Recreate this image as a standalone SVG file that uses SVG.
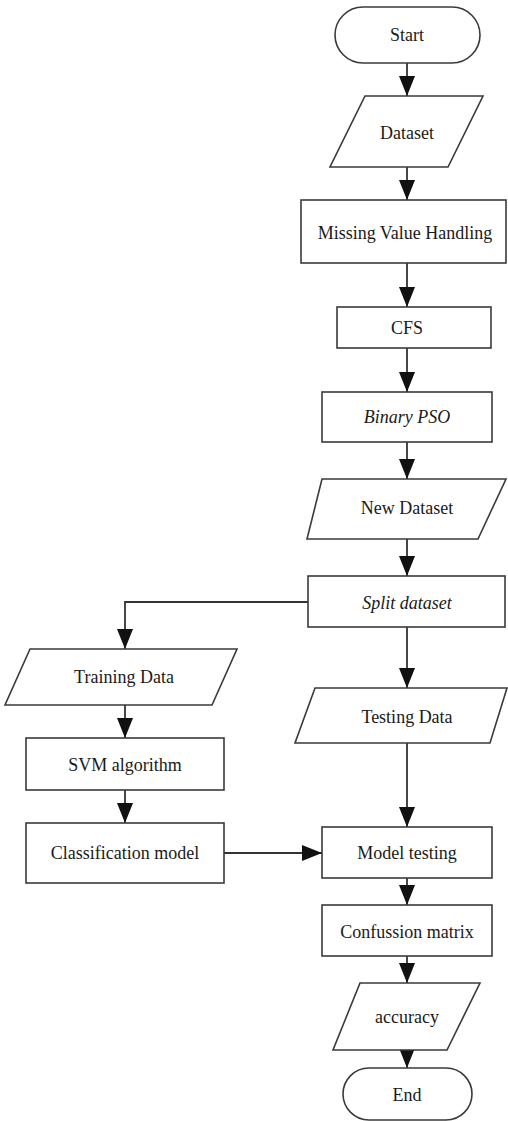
<svg xmlns="http://www.w3.org/2000/svg" width="508" height="1121" viewBox="0 0 508 1121">
<defs>
<style>
.s{fill:#fff;stroke:#3a3a3a;stroke-width:1.6}
.t{font-family:"Liberation Serif","Times New Roman",serif;font-size:18px;fill:#1a1a1a;text-anchor:middle}
.i{font-style:italic}
.c{fill:none;stroke:#333;stroke-width:1.8}
</style>
<marker id="ah" markerUnits="userSpaceOnUse" markerWidth="22" markerHeight="18" refX="20" refY="8" orient="auto">
<path d="M0,0 L20,8 L0,16 Z" fill="#111"/>
</marker>
</defs>
<rect width="508" height="1121" fill="#fff"/>
<g id="connectors">
<line class="c" x1="407" y1="63" x2="407" y2="96" marker-end="url(#ah)"/>
<line class="c" x1="407" y1="167" x2="407" y2="200" marker-end="url(#ah)"/>
<line class="c" x1="407" y1="263" x2="407" y2="307" marker-end="url(#ah)"/>
<line class="c" x1="407" y1="348" x2="407" y2="392" marker-end="url(#ah)"/>
<line class="c" x1="407" y1="442" x2="407" y2="479" marker-end="url(#ah)"/>
<line class="c" x1="407" y1="539" x2="407" y2="576" marker-end="url(#ah)"/>
<polyline class="c" points="308,602 125,602 125,649" marker-end="url(#ah)"/>
<line class="c" x1="407" y1="627" x2="407" y2="688" marker-end="url(#ah)"/>
<line class="c" x1="125" y1="705" x2="125" y2="738" marker-end="url(#ah)"/>
<line class="c" x1="125" y1="790" x2="125" y2="823" marker-end="url(#ah)"/>
<line class="c" x1="224" y1="853" x2="322" y2="853" marker-end="url(#ah)"/>
<line class="c" x1="407" y1="743" x2="407" y2="827" marker-end="url(#ah)"/>
<line class="c" x1="407" y1="878" x2="407" y2="905" marker-end="url(#ah)"/>
<line class="c" x1="407" y1="956" x2="407" y2="983" marker-end="url(#ah)"/>
<line class="c" x1="407" y1="1050" x2="407" y2="1068" marker-end="url(#ah)"/>
</g>
<g id="start"><rect class="s" x="335" y="7" width="145" height="56" rx="28"/><text class="t" x="407" y="41">Start</text></g>
<g id="dataset"><polygon class="s" points="365,96 483,96 448,167 330,167"/><text class="t" x="407" y="139">Dataset</text></g>
<g id="missing"><rect class="s" x="301" y="200" width="205" height="63"/><text class="t" x="405" y="239">Missing Value Handling</text></g>
<g id="cfs"><rect class="s" x="337" y="307" width="154" height="41"/><text class="t" x="407" y="334">CFS</text></g>
<g id="bpso"><rect class="s" x="322" y="392" width="170" height="50"/><text class="t i" x="407" y="423">Binary PSO</text></g>
<g id="newdataset"><polygon class="s" points="322,479 506,479 478,539 307,539"/><text class="t" x="407" y="514">New Dataset</text></g>
<g id="split"><rect class="s" x="308" y="576" width="197" height="51"/><text class="t i" x="407" y="609">Split dataset</text></g>
<g id="training"><polygon class="s" points="30,649 237,649 212,705 5,705"/><text class="t" x="124" y="683">Training Data</text></g>
<g id="testing"><polygon class="s" points="315,688 507,688 490,743 295,743"/><text class="t" x="407" y="723">Testing Data</text></g>
<g id="svm"><rect class="s" x="26" y="738" width="198" height="52"/><text class="t" x="125" y="771">SVM algorithm</text></g>
<g id="classmodel"><rect class="s" x="26" y="823" width="198" height="60"/><text class="t" x="125" y="859">Classification model</text></g>
<g id="modeltesting"><rect class="s" x="322" y="827" width="170" height="51"/><text class="t" x="407" y="859">Model testing</text></g>
<g id="confusion"><rect class="s" x="322" y="905" width="170" height="51"/><text class="t" x="407" y="938">Confussion matrix</text></g>
<g id="accuracy"><polygon class="s" points="360,983 480,983 447,1050 333,1050"/><text class="t" x="407" y="1023">accuracy</text></g>
<g id="end"><rect class="s" x="343" y="1068" width="129" height="52" rx="26"/><text class="t" x="407" y="1101">End</text></g>
</svg>
